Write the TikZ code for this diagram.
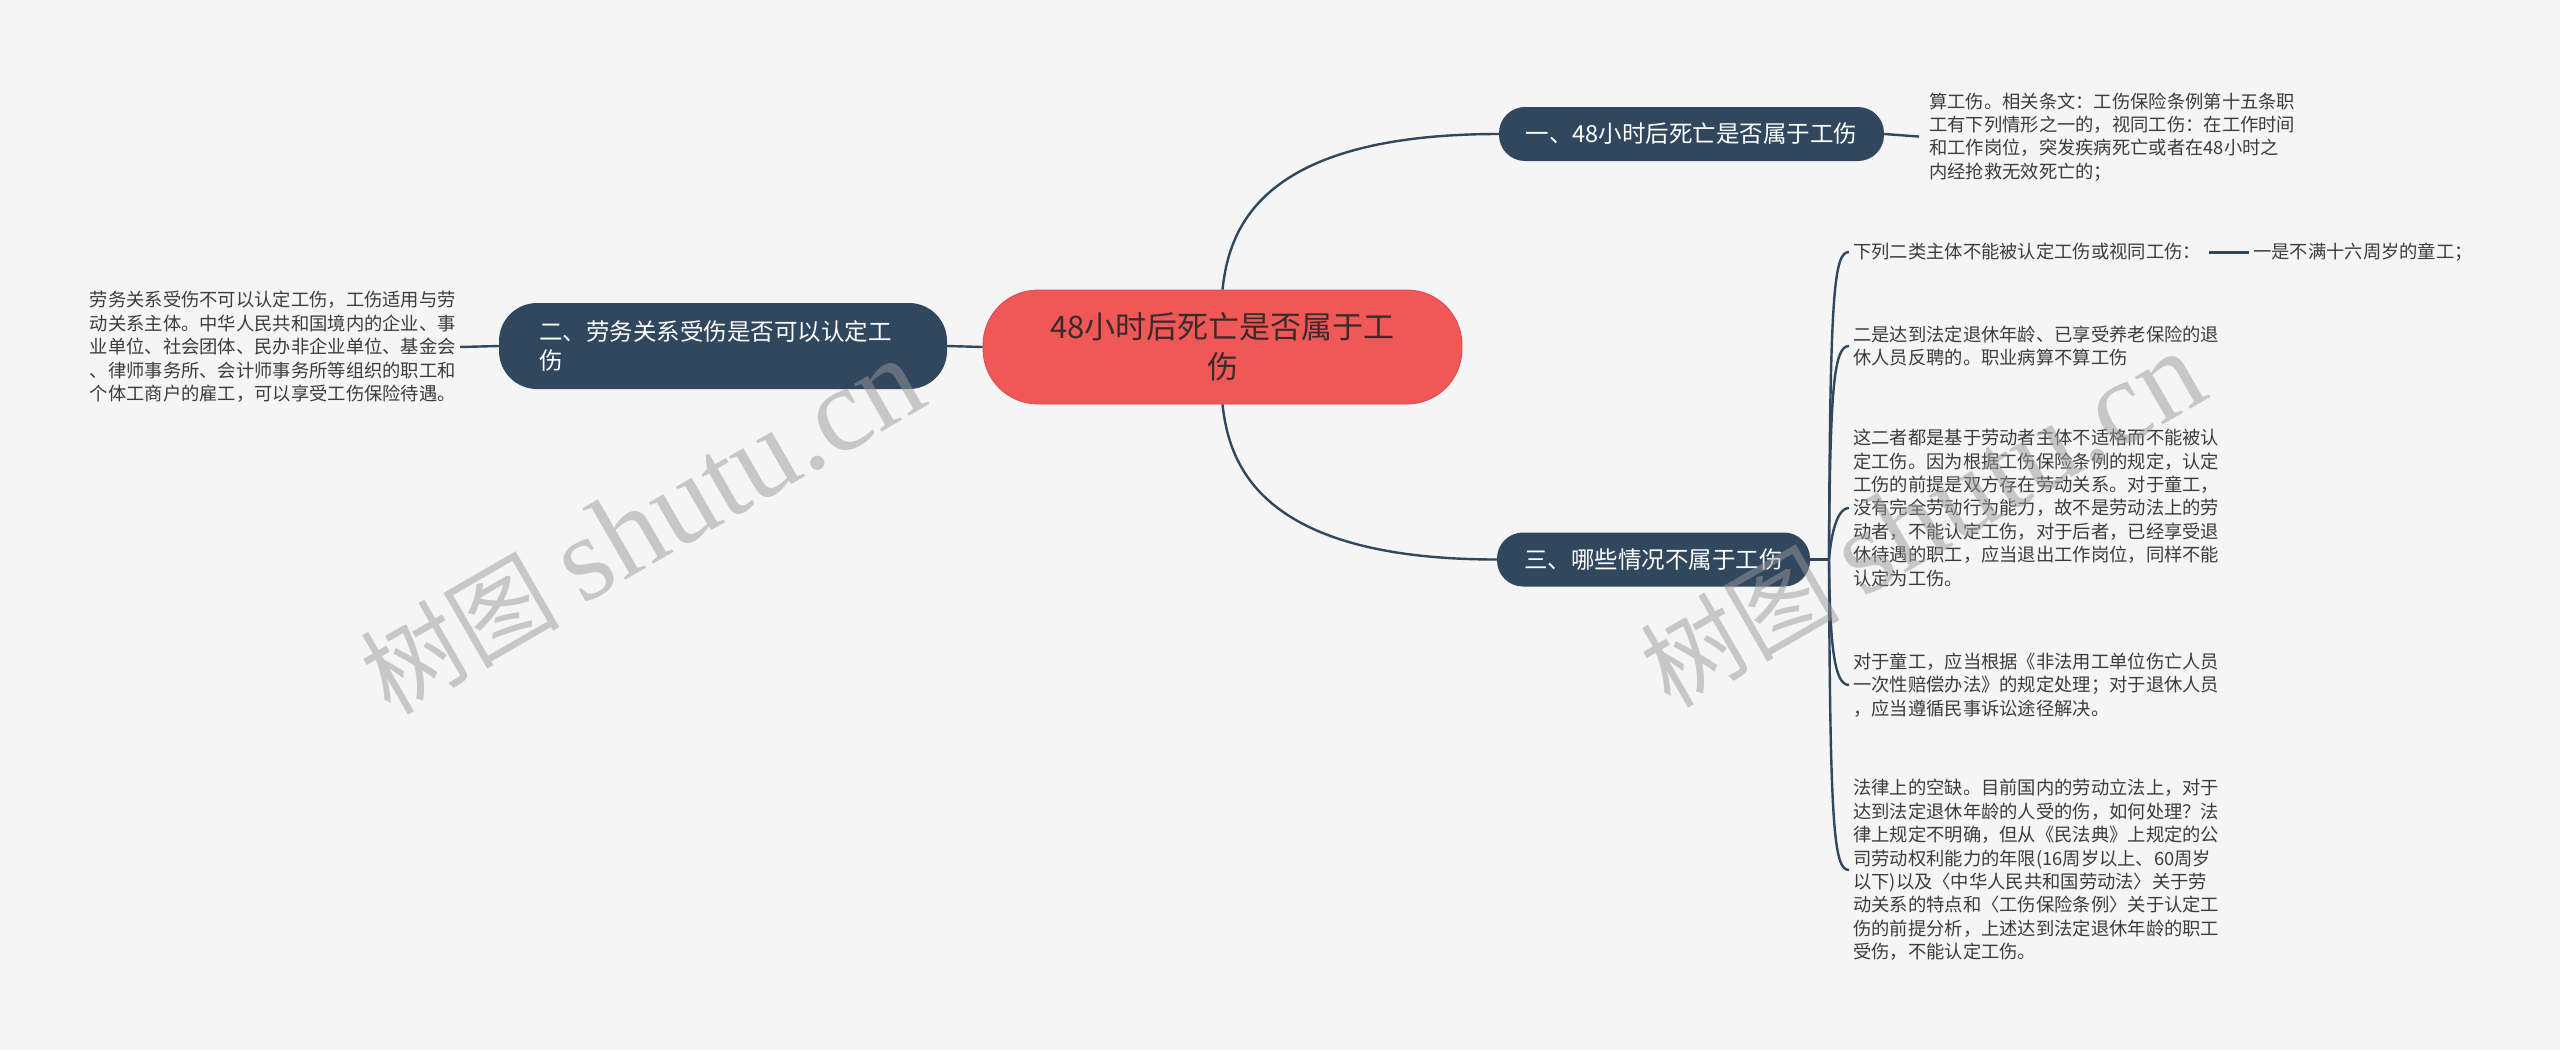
\documentclass[tikz,border=0pt]{standalone}
\usepackage{fontspec}
\setmainfont{Noto Sans CJK SC}
\newfontfamily\wmlatin{Liberation Serif}
\definecolor{bgc}{HTML}{F5F5F5}
\definecolor{slate}{HTML}{30475E}
\definecolor{rootred}{HTML}{F05757}
\definecolor{rootedge}{HTML}{D9484E}
\definecolor{rootink}{HTML}{3A2B2B}
\definecolor{leafink}{HTML}{3C3C3C}
\definecolor{wmgray}{HTML}{9A9A9A}

\begin{document}
\begin{tikzpicture}[x=1pt, y=-1pt,
    root/.style={rectangle, rounded corners=55pt, fill=rootred, draw=rootedge, line width=0.8pt,
      minimum width=479pt, minimum height=114pt, inner sep=0pt, align=center,
      text=rootink, font=\fontsize{31}{40}\selectfont},
    branch/.style={rectangle, rounded corners=26pt, fill=slate, text=white, inner sep=0pt,
      minimum height=54pt, font=\fontsize{23.5}{29}\selectfont},
    leaf/.style={inner sep=4pt, align=left, text=leafink, font=\fontsize{18.3}{23.4}\selectfont},
    link/.style={draw=slate, line width=2.4pt},
    watermark/.style={text=wmgray, opacity=0.5, rotate=30, inner sep=0pt}]

	\fill[bgc] (0,0) rectangle (2560,1050);
	\useasboundingbox (0,0) rectangle (2560,1050);

	\node[root] (root) at (1222.5,347) {48小时后死亡是否属于工\\伤};
	\node[branch, minimum width=385pt] (first) at (1691.5,134) {一、48小时后死亡是否属于工伤};
	\node[branch, minimum width=448pt, minimum height=86pt, rounded corners=38pt,
	  text width=368pt, align=left] (second) at (723,346) {二、劳务关系受伤是否可以认定工\\伤};
	\node[branch, minimum width=313pt] (third) at (1653.5,559.5) {三、哪些情况不属于工伤};

	\node[leaf, anchor=west] (firstnote) at (1925,137) {算工伤。相关条文：工伤保险条例第十五条职\\工有下列情形之一的，视同工伤：在工作时间\\和工作岗位，突发疾病死亡或者在48小时之\\内经抢救无效死亡的；};
	\node[leaf, anchor=east] (secondnote) at (460,347) {劳务关系受伤不可以认定工伤，工伤适用与劳\\动关系主体。中华人民共和国境内的企业、事\\业单位、社会团体、民办非企业单位、基金会\\、律师事务所、会计师事务所等组织的职工和\\个体工商户的雇工，可以享受工伤保险待遇。};

	\coordinate (fork) at (1829,559.5);
	\node[leaf, anchor=west] (rule) at (1849,252) {下列二类主体不能被认定工伤或视同工伤：};
	\node[leaf, anchor=west] (child) at (2249,252) {一是不满十六周岁的童工；};
	\node[leaf, anchor=west] (retiree) at (1849,346) {二是达到法定退休年龄、已享受养老保险的退\\休人员反聘的。职业病算不算工伤};
	\node[leaf, anchor=west] (reason) at (1849,508) {这二者都是基于劳动者主体不适格而不能被认\\定工伤。因为根据工伤保险条例的规定，认定\\工伤的前提是双方存在劳动关系。对于童工，\\没有完全劳动行为能力，故不是劳动法上的劳\\动者，不能认定工伤，对于后者，已经享受退\\休待遇的职工，应当退出工作岗位，同样不能\\认定为工伤。};
	\node[leaf, anchor=west] (handling) at (1849,685) {对于童工，应当根据《非法用工单位伤亡人员\\一次性赔偿办法》的规定处理；对于退休人员\\，应当遵循民事诉讼途径解决。};
	\node[leaf, anchor=west] (gap) at (1849,870) {法律上的空缺。目前国内的劳动立法上，对于\\达到法定退休年龄的人受的伤，如何处理？法\\律上规定不明确，但从《民法典》上规定的公\\司劳动权利能力的年限(16周岁以上、60周岁\\以下)以及〈中华人民共和国劳动法〉关于劳\\动关系的特点和〈工伤保险条例〉关于认定工\\伤的前提分析，上述达到法定退休年龄的职工\\受伤，不能认定工伤。};

	\draw[link] (second.east) -- (root.west);
	\draw[link] (secondnote.east) -- (second.west);
	\draw[link] (root.north) .. controls (1229,230) and (1258,134) .. (first.west);
	\draw[link] (root.south) .. controls (1229,463) and (1258,559.5) .. (third.west);
	\draw[link, shorten >=6pt] (first.east) -- (firstnote.west);
	\draw[link] (third.east) -- (fork);
	\foreach \n/\cy/\s in {rule/252/1, retiree/346/1, reason/508/1, handling/685/-1, gap/870/-1}
		\draw[link] (fork) .. controls (1830,{\cy+40*\s}) and (1834,\cy) .. (\n.west);
	\draw[link, line width=3pt, shorten <=4pt] (rule.east) -- (child.west);

	\node[watermark] (wmleft) at (642,527) {\fontsize{100}{100}\selectfont 树图 \wmlatin\fontsize{120}{120}\selectfont shutu.cn};
	\node[watermark] (wmright) at (1922,520) {\fontsize{100}{100}\selectfont 树图 \wmlatin\fontsize{120}{120}\selectfont shutu.cn};
\end{tikzpicture}
\end{document}
